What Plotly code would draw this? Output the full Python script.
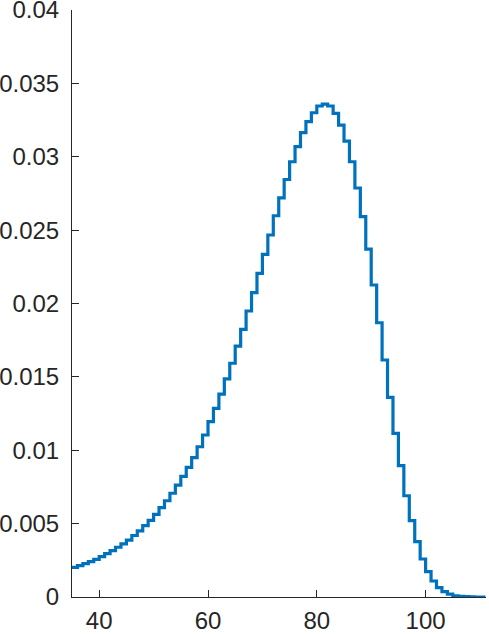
import plotly.graph_objects as go

# Bin positions (left edges of stairs) and heights
x_vals = list(range(35, 112))
y_vals = [
    0.00202, 0.00214, 0.00227, 0.00241, 0.00257, 0.00275, 0.00296, 0.00316,
    0.00339, 0.00362, 0.00388, 0.00419, 0.00450, 0.00486, 0.00522, 0.00563,
    0.00609, 0.00656, 0.00707, 0.00763, 0.00822, 0.00884, 0.00950, 0.01024,
    0.01104, 0.01195, 0.01286, 0.01383, 0.01486, 0.01593, 0.01710, 0.01824,
    0.01949, 0.02074, 0.02206, 0.02335, 0.02467, 0.02598, 0.02720, 0.02845,
    0.02966, 0.03069, 0.03164, 0.03239, 0.03300, 0.03346, 0.03359, 0.03346,
    0.03296, 0.03216, 0.03107, 0.02966, 0.02787, 0.02592, 0.02371, 0.02126,
    0.01869, 0.01615, 0.01361, 0.01115, 0.00895, 0.00690, 0.00520, 0.00377,
    0.00259, 0.00173, 0.00109, 0.00064, 0.00036, 0.00020, 0.00008, 0.00004,
    0.00002, 0.00001, 0.0, 0.0, 0.0,
]

x_tick_vals = [40, 60, 80, 100]
x_tick_text = ["40", "60", "80", "100"]
y_tick_vals = [0, 0.005, 0.01, 0.015, 0.02, 0.025, 0.03, 0.035, 0.04]
y_tick_text = ["0", "0.005", "0.01", "0.015", "0.02", "0.025", "0.03", "0.035", "0.04"]

AX = "#262626"
FONT = "Liberation Sans, Arial, Helvetica, sans-serif"

fig = go.Figure()
fig.add_trace(go.Scatter(
    x=x_vals, y=y_vals, mode="lines",
    line=dict(color="#0072BD", width=3.2, shape="hv"),
    showlegend=False, hoverinfo="skip",
))

fig.update_layout(
    width=489, height=634,
    margin=dict(l=72, r=3, t=10, b=37),
    paper_bgcolor="white", plot_bgcolor="white",
    font=dict(family=FONT, size=24, color=AX),
    xaxis=dict(
        range=[35, 111.1], tickvals=x_tick_vals, ticktext=x_tick_text,
        showline=True, linecolor=AX, linewidth=1, mirror=False,
        ticks="inside", ticklen=7, tickwidth=1, tickcolor=AX,
        showgrid=False, zeroline=False, ticklabelstandoff=2,
        automargin=False, ticklabeloverflow="allow",
    ),
    yaxis=dict(
        range=[0, 0.040001], tickvals=y_tick_vals, ticktext=y_tick_text,
        showline=True, linecolor=AX, linewidth=1, mirror=False,
        ticks="inside", ticklen=7, tickwidth=1, tickcolor=AX,
        showgrid=False, zeroline=False, ticklabelstandoff=7,
        automargin=False, ticklabeloverflow="allow",
    ),
)

fig.write_html(
    "out.html",
    config={"displayModeBar": False},
    post_script="document.body.style.margin='0';document.body.style.overflow='hidden';",
)
